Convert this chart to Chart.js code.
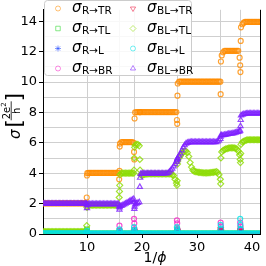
<!DOCTYPE html>
<html>
<head>
<meta charset="utf-8">
<script src="https://cdn.jsdelivr.net/npm/chart.js@4.4.1/dist/chart.umd.min.js"></script>
<style>
  html, body { margin: 0; padding: 0; background: #fff; }
  #chart { display: block; }
</style>
</head>
<body>
<canvas id="chart" width="266" height="266"></canvas>
<script>
// --- DATA ---
// 1/phi sample positions (shared by all series)
const invPhi = [
  2, 2.25, 2.5, 2.75, 3, 3.25, 3.5, 3.75, 4, 4.25, 4.5, 4.75, 5, 5.25, 5.5, 5.75,
  6, 6.25, 6.5, 6.75, 7, 7.25, 7.5, 7.75, 8, 8.25, 8.5, 8.75, 9, 9.25, 9.5, 9.75,
  9.9, 9.95, 10, 10.05,
  10.25, 10.5, 10.75, 11, 11.25, 11.5, 11.75, 12, 12.25, 12.5, 12.75, 13,
  13.25, 13.5, 13.75, 14, 14.25, 14.5, 14.75, 15, 15.25, 15.5, 15.75,
  15.85, 15.9, 15.95, 16,
  16.25, 16.5, 16.75, 17, 17.25, 17.5, 17.75, 18, 18.25, 18.5,
  18.55, 18.6, 18.65, 18.75,
  19, 19.25, 19.5,
  19.6, 19.65, 19.75,
  20, 20.25, 20.5, 20.75, 21, 21.25, 21.5, 21.75, 22, 22.25, 22.5, 22.75, 23,
  23.25, 23.5, 23.75, 24, 24.25, 24.5, 24.75, 25, 25.25, 25.5, 25.75, 26, 26.25,
  26.35, 26.4, 26.45, 26.5,
  26.75, 27, 27.25, 27.5, 27.75, 28, 28.25, 28.5, 28.75, 29, 29.25, 29.5, 29.75, 30, 30.25, 30.5,
  30.75, 31, 31.25, 31.5, 31.75, 32, 32.25, 32.5, 32.75, 33, 33.25, 33.5, 33.75, 34, 34.25,
  34.3, 34.35, 34.5,
  34.75, 35, 35.25, 35.5, 35.75, 36, 36.25, 36.5, 36.75, 37, 37.25, 37.5, 37.75,
  37.85, 37.9, 37.95, 38,
  38.25, 38.5, 38.75, 39, 39.25, 39.5, 39.75, 40, 40.25, 40.5, 40.75, 41, 41.25, 41.5, 41.75
];

const sigmaR_TR = [
  2.02, 2.02, 2.02, 2.02, 2.02, 2.02, 2.02, 2.02, 2.02, 2.02, 2.02, 2.02, 2.02, 2.02, 2.02, 2.02,
  2.02, 2.02, 2.02, 2.02, 2.02, 2.02, 2.02, 2.02, 2.02, 2.02, 2.02, 2.02, 2.02, 2.02, 2.02, 2.02,
  2.02, 2.4, 3.85, 4,
  4.02, 4.02, 4.02, 4.02, 4.02, 4.02, 4.02, 4.02, 4.02, 4.02, 4.02, 4.02,
  4.02, 4.02, 4.02, 4.02, 4.02, 4.02, 4.02, 4.02, 4.02, 4.02, 4.02,
  3.6, 4.15, 5.75, 5.95,
  6.05, 6.05, 6.05, 6.05, 6.05, 6.05, 6.05, 6.05, 6.05, 6,
  5.4, 4.9, 7.6, 8,
  8.02, 8.02, 8.02,
  8.02, 8.02, 8.02,
  8.02, 8.02, 8.02, 8.02, 8.02, 8.02, 8.02, 8.02, 8.02, 8.02, 8.02, 8.02, 8.02,
  8.02, 8.02, 8.02, 8.02, 8.02, 8.02, 8.02, 8.02, 8.02, 8.02, 8.02, 8.02, 8.02,
  7.5, 7.25, 9.1, 9.9,
  10.02, 10.02, 10.02, 10.02, 10.02, 10.02, 10.02, 10.02, 10.02, 10.02, 10.02, 10.02, 10.02, 10.02, 10.02, 10.02,
  10.02, 10.02, 10.02, 10.02, 10.02, 10.02, 10.02, 10.02, 10.02, 10.02, 10.02, 10.02, 10.02, 10.02, 10.02,
  9.2, 11.35, 11.75,
  11.95, 12.05, 12.05, 12.05, 12.05, 12.05, 12.05, 12.05, 12.05, 12.05, 12.05, 12.05, 11.6,
  11.1, 10.65, 12.7, 13.6,
  13.8, 13.9, 13.95, 13.95, 13.95, 13.95, 13.95, 13.95, 13.95, 13.95, 13.95, 13.95, 13.95, 13.95, 13.95
];

const sigmaR_TL = [
  0.08, 0.08, 0.08, 0.08, 0.08, 0.08, 0.08, 0.08, 0.08, 0.08, 0.08, 0.08, 0.08, 0.08, 0.08, 0.08,
  0.08, 0.08, 0.08, 0.08, 0.08, 0.08, 0.08, 0.08, 0.08, 0.08, 0.08, 0.08, 0.08, 0.08, 0.08, 0.08,
  0.08, 0.15, 0.3, 0.05,
  0.02, 0.02, 0.02, 0.02, 0.02, 0.02, 0.02, 0.02, 0.02, 0.02, 0.02, 0.02,
  0.02, 0.02, 0.02, 0.02, 0.02, 0.02, 0.02, 0.02, 0.02, 0.02, 0.02,
  0.02, 0.2, 0.1, 0.02,
  0.02, 0.02, 0.02, 0.02, 0.02, 0.02, 0.02, 0.02, 0.02, 0.02,
  0.02, 0.25, 0.1, 0.02,
  0.02, 0.02, 0.02,
  0.02, 0.02, 0.02,
  0.02, 0.02, 0.02, 0.02, 0.02, 0.02, 0.02, 0.02, 0.02, 0.02, 0.02, 0.02, 0.02,
  0.02, 0.02, 0.02, 0.02, 0.02, 0.02, 0.02, 0.02, 0.02, 0.02, 0.02, 0.02, 0.02,
  0.02, 0.3, 0.1, 0.02,
  0.02, 0.02, 0.02, 0.02, 0.02, 0.02, 0.02, 0.02, 0.02, 0.02, 0.02, 0.02, 0.02, 0.02, 0.02, 0.02,
  0.02, 0.02, 0.02, 0.02, 0.02, 0.02, 0.02, 0.02, 0.02, 0.02, 0.02, 0.02, 0.02, 0.02, 0.02,
  0.2, 0.1, 0.02,
  0.02, 0.02, 0.02, 0.02, 0.02, 0.02, 0.02, 0.02, 0.02, 0.02, 0.02, 0.02, 0.02,
  0.02, 0.3, 0.1, 0.02,
  0.02, 0.02, 0.02, 0.02, 0.02, 0.02, 0.02, 0.02, 0.02, 0.02, 0.02, 0.02, 0.02, 0.02, 0.02
];

const sigmaR_L = [
  0, 0, 0, 0, 0, 0, 0, 0, 0, 0, 0, 0, 0, 0, 0, 0,
  0, 0, 0, 0, 0, 0, 0, 0, 0, 0, 0, 0, 0, 0, 0, 0,
  0, 0, 0.1, 0,
  0, 0, 0, 0, 0, 0, 0, 0, 0, 0, 0, 0,
  0, 0, 0, 0, 0, 0, 0, 0, 0, 0, 0,
  0, 0.15, 0, 0,
  0, 0, 0, 0, 0, 0, 0, 0, 0, 0,
  0, 0.2, 0, 0,
  0, 0, 0,
  0, 0, 0,
  0, 0, 0, 0, 0, 0, 0, 0, 0, 0, 0, 0, 0,
  0, 0, 0, 0, 0, 0, 0, 0, 0, 0, 0, 0, 0,
  0, 0.25, 0.1, 0,
  0, 0, 0, 0, 0, 0, 0, 0, 0, 0, 0, 0, 0, 0, 0, 0,
  0, 0, 0, 0, 0, 0, 0, 0, 0, 0, 0, 0, 0, 0, 0,
  0.3, 0.1, 0,
  0, 0, 0, 0, 0, 0, 0, 0, 0, 0, 0, 0, 0,
  0, 0.35, 0.1, 0,
  0, 0, 0, 0, 0, 0, 0, 0, 0, 0, 0, 0, 0, 0, 0
];

const sigmaR_BR = [
  0, 0, 0, 0, 0, 0, 0, 0, 0, 0, 0, 0, 0, 0, 0, 0,
  0, 0, 0, 0, 0, 0, 0, 0, 0, 0, 0, 0, 0, 0, 0, 0,
  0, 0.05, 0.1, 0,
  0, 0, 0, 0, 0, 0, 0, 0, 0, 0, 0, 0,
  0, 0, 0, 0, 0, 0, 0, 0, 0, 0, 0,
  0, 0.55, 0.2, 0,
  0, 0, 0, 0, 0, 0, 0, 0, 0, 0,
  1, 0.7, 0.3, 0,
  0, 0, 0,
  0, 0, 0,
  0, 0, 0, 0, 0, 0, 0, 0, 0, 0, 0, 0, 0,
  0, 0, 0, 0, 0, 0, 0, 0, 0, 0, 0, 0, 0,
  0.9, 0.7, 0.3, 0,
  0, 0, 0, 0, 0, 0, 0, 0, 0, 0, 0, 0, 0, 0, 0, 0,
  0, 0, 0, 0, 0, 0, 0, 0, 0, 0, 0, 0, 0, 0, 0,
  0.75, 0.5, 0,
  0, 0, 0, 0, 0, 0, 0, 0, 0, 0, 0, 0, 0,
  0.75, 0.5, 0.2, 0,
  0, 0, 0, 0, 0, 0, 0, 0, 0, 0, 0, 0, 0, 0, 0
];

const sigmaBL_TR = [
  0, 0, 0, 0, 0, 0, 0, 0, 0, 0, 0, 0, 0, 0, 0, 0,
  0, 0, 0, 0, 0, 0, 0, 0, 0, 0, 0, 0, 0, 0, 0, 0,
  0, 0, 0, 0,
  0, 0, 0, 0, 0, 0, 0, 0, 0, 0, 0, 0,
  0, 0, 0, 0, 0, 0, 0, 0, 0, 0, 0,
  0, 0.1, 0, 0,
  0, 0, 0, 0, 0, 0, 0, 0, 0, 0,
  0, 0.15, 0, 0,
  0, 0, 0,
  0, 0, 0,
  0, 0, 0, 0, 0, 0, 0, 0, 0, 0, 0, 0, 0,
  0, 0, 0, 0, 0, 0, 0, 0, 0, 0, 0, 0, 0,
  0, 0.1, 0.2, 0,
  0, 0, 0, 0, 0, 0, 0, 0, 0, 0, 0, 0, 0, 0, 0, 0,
  0, 0, 0, 0, 0, 0, 0, 0, 0, 0, 0, 0, 0, 0, 0,
  0.3, 0.15, 0,
  0, 0, 0, 0, 0, 0, 0, 0, 0, 0, 0, 0, 0,
  0, 0.2, 0.1, 0,
  0, 0, 0, 0, 0, 0, 0, 0, 0, 0, 0, 0, 0, 0, 0
];

const sigmaBL_TL = [
  0.15, 0.15, 0.15, 0.15, 0.15, 0.15, 0.15, 0.15, 0.15, 0.15, 0.15, 0.15, 0.15, 0.15, 0.15, 0.15,
  0.15, 0.15, 0.15, 0.15, 0.15, 0.15, 0.15, 0.15, 0.15, 0.15, 0.15, 0.15, 0.15, 0.15, 0.15, 0.15,
  0.15, 0.55, 1.75, 1.85,
  1.9, 1.9, 1.9, 1.9, 1.9, 1.9, 1.9, 1.9, 1.9, 1.9, 1.9, 1.9,
  1.9, 1.9, 1.9, 1.9, 1.9, 1.9, 1.9, 1.9, 1.9, 1.9, 1.9,
  2.4, 2.8, 3.2, 3.9,
  4, 4, 4, 4, 4, 4, 4, 4, 4, 4,
  4.2, 5, 5.7, 5.85,
  5.9, 5.9, 5.8,
  4.9, 4.2, 3.9,
  3.85, 3.9, 3.92, 3.94, 3.95, 3.95, 3.95, 3.95, 3.95, 3.95, 3.95, 3.95, 3.95,
  3.95, 3.95, 3.95, 3.95, 3.95, 3.95, 3.95, 3.95, 3.95, 3.9, 3.85, 3.6, 3.35,
  3.2, 3.5, 4.6, 4.8,
  5, 5.15, 5.3, 5.4, 5.45, 5.45, 5.35, 5.1, 4.7, 4.4, 4.2, 4.12, 4.1, 4.08, 4.06, 4.05,
  4.04, 4.03, 4.02, 4.02, 4.02, 4.02, 4.03, 4.04, 4.05, 4.06, 4.08, 4.1, 4.05, 3.9, 3.6,
  3.3, 5, 5.4,
  5.5, 5.55, 5.6, 5.62, 5.65, 5.66, 5.67, 5.67, 5.66, 5.64, 5.6, 5.45, 5.2,
  4.9, 4.7, 5.3, 5.9,
  6.05, 6.1, 6.15, 6.18, 6.2, 6.2, 6.2, 6.2, 6.2, 6.2, 6.2, 6.2, 6.2, 6.2, 6.2
];

const sigmaBL_L = [
  0.05, 0.05, 0.05, 0.05, 0.05, 0.05, 0.05, 0.05, 0.05, 0.05, 0.05, 0.05, 0.05, 0.05, 0.05, 0.05,
  0.05, 0.05, 0.05, 0.05, 0.05, 0.05, 0.05, 0.05, 0.05, 0.05, 0.05, 0.05, 0.05, 0.05, 0.05, 0.05,
  0.05, 0.1, 0.2, 0.03,
  0.03, 0.03, 0.03, 0.03, 0.03, 0.03, 0.03, 0.03, 0.03, 0.03, 0.03, 0.03,
  0.03, 0.03, 0.03, 0.03, 0.03, 0.03, 0.03, 0.03, 0.03, 0.03, 0.03,
  0.03, 0.3, 0.15, 0.03,
  0.03, 0.03, 0.03, 0.03, 0.03, 0.03, 0.03, 0.03, 0.03, 0.03,
  0.45, 0.25, 0.1, 0.03,
  0.03, 0.03, 0.03,
  0.03, 0.03, 0.03,
  0.03, 0.03, 0.03, 0.03, 0.03, 0.03, 0.03, 0.03, 0.03, 0.03, 0.03, 0.03, 0.03,
  0.03, 0.03, 0.03, 0.03, 0.03, 0.03, 0.03, 0.03, 0.03, 0.03, 0.03, 0.03, 0.03,
  0.45, 0.3, 0.15, 0.03,
  0.03, 0.03, 0.03, 0.03, 0.03, 0.03, 0.03, 0.03, 0.03, 0.03, 0.03, 0.03, 0.03, 0.03, 0.03, 0.03,
  0.03, 0.03, 0.03, 0.03, 0.03, 0.03, 0.03, 0.03, 0.03, 0.03, 0.03, 0.03, 0.03, 0.03, 0.03,
  0.6, 0.35, 0.03,
  0.03, 0.03, 0.03, 0.03, 0.03, 0.03, 0.03, 0.03, 0.03, 0.03, 0.03, 0.03, 0.03,
  1, 0.6, 0.3, 0.03,
  0.03, 0.03, 0.03, 0.03, 0.03, 0.03, 0.03, 0.03, 0.03, 0.03, 0.03, 0.03, 0.03, 0.03, 0.03
];

const sigmaBL_BR = [
  2, 2, 2, 2, 2, 2, 2, 2, 2, 2, 2, 2, 2, 2, 2, 2,
  2, 2, 2, 2, 2, 2, 2, 2, 2, 2, 2, 2, 2, 2, 2, 2,
  2, 1.95, 1.7, 1.9,
  1.97, 1.97, 1.97, 1.97, 1.97, 1.97, 1.97, 1.97, 1.97, 1.97, 1.97, 1.97,
  1.97, 1.97, 1.97, 1.97, 1.97, 1.97, 1.97, 1.97, 1.97, 1.97, 1.97,
  1.8, 1.6, 1.75, 1.85,
  1.85, 1.9, 1.95, 2, 2.05, 2.1, 2.15, 2.2, 2.25, 2.3,
  2.1, 1.65, 1.8, 1.95,
  2, 2.05, 2.1,
  3.1, 3.7, 3.95,
  3.98, 3.98, 3.98, 3.98, 3.98, 3.98, 3.98, 3.98, 3.98, 3.98, 3.98, 3.98, 3.98,
  3.98, 3.98, 3.98, 3.98, 3.98, 3.98, 4.02, 4.1, 4.2, 4.3, 4.45, 4.6, 4.75,
  4.85, 4.9, 4.95, 5,
  5.15, 5.3, 5.5, 5.7, 5.85, 5.95, 6, 6.02, 6.05, 6.05, 6.05, 6.05, 6.05, 6.05, 6.05, 6.05,
  6.05, 6.05, 6.05, 6.05, 6.05, 6.05, 6.05, 6.05, 6.05, 6.05, 6.05, 6.05, 6.1, 6.15, 6.25,
  6.4, 6.5, 6.5,
  6.5, 6.52, 6.54, 6.56, 6.58, 6.6, 6.6, 6.62, 6.64, 6.66, 6.7, 6.72, 6.75,
  6.8, 7.1, 7.5, 7.8,
  7.85, 7.88, 7.9, 7.92, 7.93, 7.93, 7.93, 7.93, 7.93, 7.93, 7.93, 7.93, 7.93, 7.93, 7.93
];

const seriesNames = ['R→TR', 'R→TL', 'R→L', 'R→BR', 'BL→TR', 'BL→TL', 'BL→L', 'BL→BR'];
const xTickLabels = [10, 20, 30, 40];
const xGridLines = [10, 15.9, 18.6, 26.4, 34.3, 37.9];
const yGridValues = [0, 1, 2, 3, 4, 5, 6, 7, 8, 9, 10, 11, 12, 13, 14];
const yTickLabels = [0, 2, 4, 6, 8, 10, 12, 14];

// --- STYLE ---
const markerColors = [
  'rgba(255,140,0,0.8)',
  'rgba(40,215,40,0.8)',
  'rgba(30,70,255,0.8)',
  'rgba(245,40,200,0.8)',
  'rgba(235,20,60,0.8)',
  'rgba(140,220,0,0.8)',
  'rgba(0,225,230,0.8)',
  'rgba(125,30,255,0.8)'
];
const legendColors = [
  'rgba(255,140,0,0.55)',
  'rgba(40,215,40,0.55)',
  'rgba(30,70,255,0.55)',
  'rgba(245,40,200,0.55)',
  'rgba(235,20,60,0.55)',
  'rgba(140,220,0,0.55)',
  'rgba(0,225,230,0.55)',
  'rgba(125,30,255,0.55)'
];
const markerStyles = ['circle', 'rect', 'star', 'circle', 'triangle', 'rectRot', 'circle', 'triangle'];
const markerRotation = [0, 0, 0, 0, 180, 0, 0, 0];
const markerRadius = [2.5, 3.2, 3, 2.5, 3, 3, 2.5, 3];
const gridColor = '#cfcfcf';
const clear = 'rgba(0,0,0,0)';
const FONT = '"DejaVu Sans"';

const seriesValues = [sigmaR_TR, sigmaR_TL, sigmaR_L, sigmaR_BR, sigmaBL_TR, sigmaBL_TL, sigmaBL_L, sigmaBL_BR];
seriesValues.forEach((ys, i) => {
  if (ys.length !== invPhi.length) throw new Error(seriesNames[i] + ' has ' + ys.length + ' values, expected ' + invPhi.length);
});

const datasets = seriesValues.map((ys, i) => ({
  label: 'σ' + seriesNames[i],
  data: invPhi.map((x, j) => ({ x: x, y: ys[j] })),
  pointStyle: markerStyles[i],
  pointRotation: markerRotation[i],
  pointRadius: markerRadius[i],
  pointBorderWidth: 1.2,
  borderColor: markerColors[i],
  backgroundColor: clear,
  order: 7 - i
}));

const xTickPositions = [...new Set([...xGridLines, ...xTickLabels])].sort((a, b) => a - b);

// --- DECORATIONS (legend, titles, right spine) ---
function roundRect(c, x, y, w, h, r) {
  c.beginPath();
  c.moveTo(x + r, y);
  c.lineTo(x + w - r, y);
  c.arcTo(x + w, y, x + w, y + r, r);
  c.lineTo(x + w, y + h - r);
  c.arcTo(x + w, y + h, x + w - r, y + h, r);
  c.lineTo(x + r, y + h);
  c.arcTo(x, y + h, x, y + h - r, r);
  c.lineTo(x, y + r);
  c.arcTo(x, y, x + r, y, r);
  c.closePath();
}

function drawLegend(chart) {
  const c = chart.ctx;
  c.save();
  roundRect(c, 44.5, 0.5, 147, 75, 3);
  c.fillStyle = 'rgba(255,255,255,0.85)';
  c.fill();
  c.strokeStyle = '#cccccc';
  c.lineWidth = 1;
  c.stroke();

  seriesNames.forEach((name, i) => {
    const col = Math.floor(i / 4), row = i % 4;
    const mx = 58 + col * 75, my = 8.5 + row * 20;
    c.strokeStyle = legendColors[i];
    c.fillStyle = clear;
    c.lineWidth = 1;
    Chart.helpers.drawPoint(c, {
      pointStyle: markerStyles[i], rotation: markerRotation[i],
      radius: markerRadius[i], borderWidth: 1
    }, mx, my);

    const tx = 72 + col * 75;
    c.fillStyle = '#000';
    c.textAlign = 'left';
    c.textBaseline = 'alphabetic';
    c.font = 'italic 15px ' + FONT;
    c.fillText('σ', tx, my + 3.5);
    const sw = c.measureText('σ').width;
    c.font = '10.5px ' + FONT;
    c.fillText(name, tx + sw + 0.5, my + 5);
  });
  c.restore();
}

function drawYTitle(chart) {
  const c = chart.ctx;
  c.save();
  c.translate(20, 139);
  c.rotate(-Math.PI / 2);
  c.fillStyle = '#000';
  c.strokeStyle = '#000';
  c.textBaseline = 'alphabetic';
  c.textAlign = 'left';
  let x = 0;
  c.font = 'italic 15px ' + FONT;
  c.fillText('σ', x, 0);
  x += c.measureText('σ').width + 2;
  c.font = '21px ' + FONT;
  c.fillText('[', x, 1);
  x += c.measureText('[').width - 1;
  // fraction 2e²/h
  c.font = '10px ' + FONT;
  const numW = c.measureText('2e').width;
  const denW = c.measureText('h').width;
  c.font = '7px ' + FONT;
  const supW = c.measureText('2').width;
  const fw = Math.max(numW + supW, denW) + 2;
  c.font = '10px ' + FONT;
  c.fillText('2e', x + (fw - numW - supW) / 2, -10.5);
  c.fillText('h', x + (fw - denW) / 2, -0.5);
  c.font = '7px ' + FONT;
  c.fillText('2', x + (fw - numW - supW) / 2 + numW, -14.5);
  c.lineWidth = 0.8;
  c.beginPath();
  c.moveTo(x, -8.8);
  c.lineTo(x + fw, -8.8);
  c.stroke();
  x += fw;
  c.font = '21px ' + FONT;
  c.fillText(']', x, 1);
  c.restore();
}

function drawXTitle(chart) {
  const c = chart.ctx;
  c.save();
  c.fillStyle = '#000';
  c.textBaseline = 'alphabetic';
  c.textAlign = 'left';
  c.font = '14px ' + FONT;
  const w1 = c.measureText('1/').width;
  c.font = 'italic 14px ' + FONT;
  const w2 = c.measureText('ϕ').width;
  const x0 = 155 - (w1 + w2) / 2;
  c.font = '14px ' + FONT;
  c.fillText('1/', x0, 262);
  c.font = 'italic 14px ' + FONT;
  c.fillText('ϕ', x0 + w1, 262);
  c.restore();
}

const decorations = {
  id: 'decorations',
  afterDatasetsDraw(chart) {
    const a = chart.chartArea;
    const c = chart.ctx;
    c.save();
    c.strokeStyle = '#000';
    c.lineWidth = 1;
    c.beginPath();
    c.moveTo(Math.round(a.right) - 0.5, a.top);
    c.lineTo(Math.round(a.right) - 0.5, a.bottom);
    c.stroke();
    c.restore();
    drawLegend(chart);
  },
  afterDraw(chart) {
    drawYTitle(chart);
    drawXTitle(chart);
  }
};

// --- CHART ---
Chart.defaults.font.family = 'DejaVu Sans';

new Chart(document.getElementById('chart').getContext('2d'), {
  type: 'scatter',
  data: { datasets: datasets },
  plugins: [decorations],
  options: {
    responsive: false,
    animation: false,
    events: [],
    layout: { padding: { left: 0, right: 1, top: 0, bottom: 0 } },
    plugins: { legend: { display: false }, tooltip: { enabled: false } },
    scales: {
      x: {
        type: 'linear',
        min: 2,
        max: 41.6,
        afterBuildTicks: (s) => { s.ticks = xTickPositions.map(v => ({ value: v })); },
        afterFit: (s) => { s.height = 32; },
        ticks: {
          autoSkip: false, maxRotation: 0, padding: 2, color: '#000',
          font: { size: 13 },
          callback: (v) => xTickLabels.includes(v) ? String(v) : ''
        },
        grid: {
          color: (c) => (c.tick && xGridLines.includes(c.tick.value)) ? gridColor : clear,
          tickColor: (c) => (c.tick && xTickLabels.includes(c.tick.value)) ? '#000' : clear,
          tickLength: 4,
          lineWidth: 1
        },
        border: { color: '#000', width: 1 }
      },
      y: {
        type: 'linear',
        min: 0,
        max: 14.75,
        afterBuildTicks: (s) => { s.ticks = yGridValues.map(v => ({ value: v })); },
        afterFit: (s) => { s.width = 43; },
        ticks: {
          autoSkip: false, padding: 2, color: '#000',
          font: { size: 13 },
          callback: (v) => yTickLabels.includes(v) ? String(v) : ''
        },
        grid: {
          color: gridColor,
          tickColor: (c) => (c.tick && yTickLabels.includes(c.tick.value)) ? '#000' : clear,
          tickLength: 4,
          lineWidth: 1
        },
        border: { color: '#000', width: 1 }
      }
    }
  }
});
</script>
</body>
</html>
